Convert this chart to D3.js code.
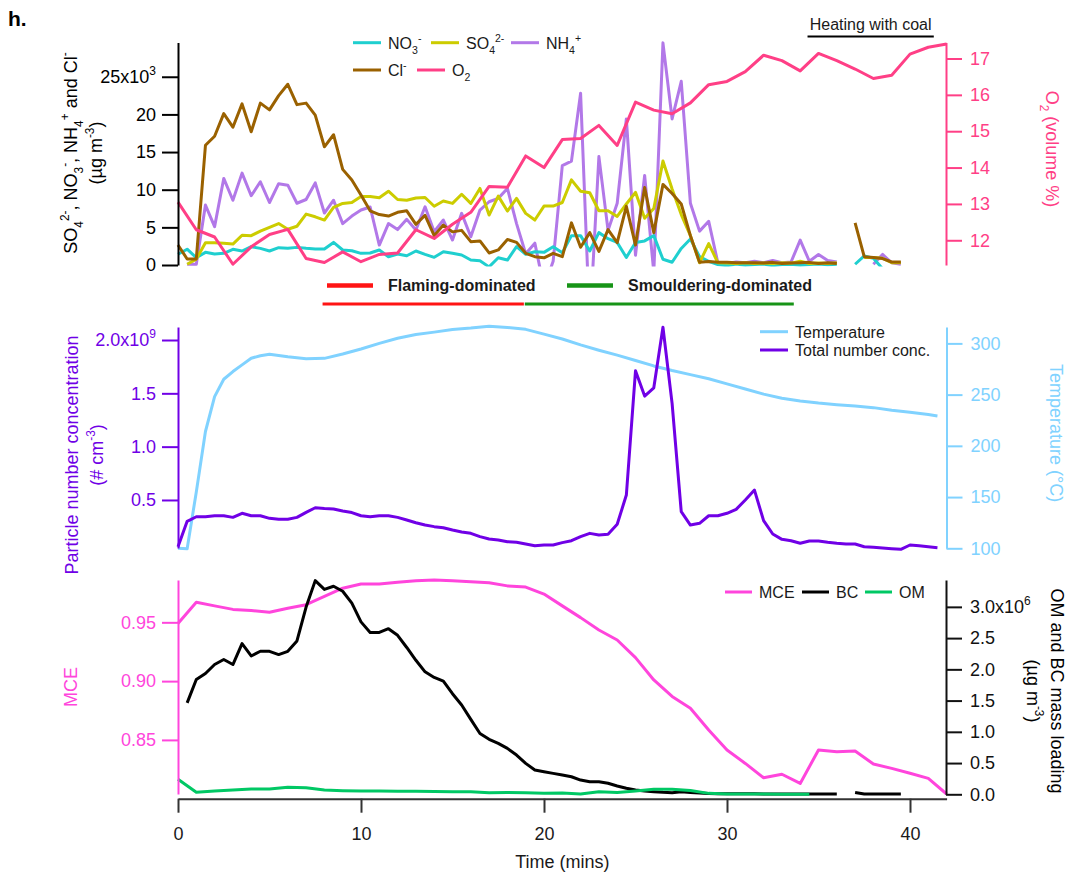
<!DOCTYPE html>
<html>
<head>
<meta charset="utf-8">
<script src="https://cdn.jsdelivr.net/npm/d3@7"></script>
<style>
  body { margin: 0; background: #fff; }
  svg { display: block; }
  text { font-family: Arial, "Liberation Sans", Helvetica, sans-serif; }
</style>
</head>
<body>
<svg id="chart" width="1074" height="875"></svg>
<script>
// ---------- time bases (minutes) ----------
const timeHalfMin = d3.range(84).map(i => i * 0.5);
const timeMin = d3.range(43);
const timeTemp = [0, 0.5, 1, 1.5, 2, 2.5, 3, 3.5, 4, 4.5, 5, 6, 7, 8, 9, 10, 11, 12, 13, 14, 15,
  16, 17, 18, 19, 20, 21, 22, 23, 24, 25, 26, 27, 28, 29, 30, 31, 32, 33, 34, 35, 36, 37, 38, 39, 40, 41, 41.5];
const timeOM = [0, 1, 2, 3, 4, 5, 6, 7, 8, 9, 10, 11, 12, 13, 14, 15, 16, 17, 18, 19, 20, 21, 22,
  23, 24, 25, 26, 27, 28, 29, 30, 31, 32, 33, 34, 34.5];

// ---------- panel 1: inorganic ions (x10^3 ug m-3), O2 (volume %) ----------
const nitrate = [1.42, 2.1, 0.97, 1.68, 1.46, 1.55, 2.08, 1.86, 2.43, 2.21,
  1.86, 2.3, 2.21, 2.34, 2.21, 2.12, 2.12, 3.0, 1.99, 1.9,
  1.55, 1.6, 1.99, 1.1, 1.46, 1.23, 1.86, 1.42, 1.02, 1.76,
  1.55, 1.33, 0.66, 0.57, -0.25, 0.97, 0.66, 2.43, 1.42, 1.76,
  1.68, 2.43, 1.63, 3.9, 3.9, 1.86, 4.3, 3.5, 3.0, 1.0,
  3.0, 3.2, 3.9, 0.76, 0.36, 2.2, 3.45, 1.1, 0.5, 0.05,
  -0.1, 0.12, -0.05, 0.06, 0.12, -0.1, 0.05, 0.1, -0.05, 0.06,
  0.12, 0.02, 0.1, null, 0.1, 1.2, 0.9, -0.5];
const sulfate = [null, 0.1, 0.78, 2.96, 2.96, 2.88, 2.78, 3.95, 3.9, 4.5,
  5.0, 5.5, 4.75, 5.15, 6.76, 6.4, 5.97, 7.65, 8.18, 8.3,
  9.1, 9.1, 8.93, 9.8, 8.7, 8.6, 8.9, 8.96, 7.8, 8.5,
  8.18, 9.4, 8.18, 10.17, 6.63, 9.15, 7.16, 8.85, 6.86, 5.97,
  7.82, 7.82, 8.3, 11.3, 9.8, 9.6, 7.2, 7.2, 6.45, 8.1,
  9.65, 6.2, 7.5, 13.8, 10.1, 6.7, 3.9, 0.3, 2.85, 0.3,
  0.25, 0.2, 0.3, 0.2, 0.25, 0.2, 0.3, 0.25, 0.5, 0.2,
  0.25, 0.2, 0.3, null, null, 1.0, 1.0, 0.9, 0.3, 0.3];
const ammonium = [null, 0.1, 0.1, 7.96, 5.1, 11.5, 8.6, 12.2, 9.2, 11.05,
  8.3, 10.8, 10.6, 8.2, 8.7, 10.9, 6.9, 8.6, 5.5, 6.5,
  7.3, 7.7, 2.65, 5.5, 4.7, 6.06, 4.64, 7.73, 4.42, 5.97,
  3.32, 6.86, 3.75, 7.3, 8.4, 8.85, 10.17, 5.5, 1.5, 2.9,
  -3, 0.5, 13.2, 13.8, 22.8, -8, 14.4, 4.6, 8.2, 19.4,
  1.3, 11.9, -1, 29.5, 19.4, 24.4, 8.2, 4.5, 5.8, 0.3,
  0.2, 0.4, 0.3, 0.5, 0.3, 0.6, 0.3, 0.4, 3.3, 0.5,
  1.4, 0.6, 0.4, null, null, null, 0.1, 1.4, 0.3, 0.1];
const chloride = [2.65, 0.8, 0.8, 15.9, 17.1, 20.1, 18.3, 21.4, 17.7, 21.5,
  20.6, 22.5, 24.0, 21.3, 21.5, 19.9, 15.7, 17.3, 12.7, 11.3,
  9.3, 7.2, 6.7, 6.5, 7.0, 7.2, 5.4, 6.6, 3.9, 5.3,
  4.4, 4.6, 3.1, 3.2, 1.6, 2.0, 3.4, 3.0, 1.55, 1.1,
  0.95, 1.55, 1.1, 5.6, 2.35, 4.3, 1.8, 4.7, 2.96, 7.8,
  2.65, 10.3, 4.3, 10.7, 9.5, 8.1, 3.9, 0.35, 0.45, 0.35,
  0.35, 0.3, 0.3, 0.3, 0.25, 0.35, 0.2, 0.25, 0.3, 0.35,
  0.2, 0.3, 0.2, null, 5.6, 1.1, 1.0, 0.85, 0.4, 0.4];
const oxygen = [13.05, 12.29, 12.09, 11.34, 11.82, 12.16, 12.30, 11.50, 11.39, 11.68,
  11.41, 11.61, 11.65, 12.29, 12.05, 12.44, 12.77, 13.48, 13.46, 14.32,
  14.00, 14.77, 14.80, 15.16, 14.61, 15.80, 15.58, 15.48, 15.78, 16.28,
  16.37, 16.64, 17.09, 16.94, 16.66, 17.14, 16.94, 16.71, 16.45, 16.54,
  17.12, 17.31, 17.40];

// ---------- panel 2: particle number (x10^9 # cm-3), temperature (degC) ----------
const numberConc = [0.062, 0.30, 0.343, 0.343, 0.352, 0.352, 0.337, 0.375, 0.352, 0.352,
  0.328, 0.319, 0.319, 0.337, 0.384, 0.427, 0.42, 0.415, 0.396, 0.382,
  0.352, 0.343, 0.352, 0.352, 0.337, 0.312, 0.287, 0.265, 0.25, 0.24,
  0.218, 0.2, 0.187, 0.156, 0.134, 0.125, 0.109, 0.103, 0.087, 0.071,
  0.078, 0.078, 0.1, 0.118, 0.156, 0.187, 0.172, 0.178, 0.272, 0.546,
  1.711, 1.474, 1.552, 2.12, 1.406, 0.39, 0.265, 0.281, 0.352, 0.352,
  0.375, 0.412, 0.5, 0.593, 0.306, 0.181, 0.131, 0.118, 0.094, 0.115,
  0.115, 0.103, 0.094, 0.087, 0.087, 0.062, 0.056, 0.05, 0.043, 0.037,
  0.078, 0.071, 0.062, 0.053];
const temperature = [100, 99.5, 155, 214, 248, 265, 272.5, 279, 285.5, 288, 289.5,
  287, 285, 285.4, 289.6, 294.5, 300, 305, 308.7, 311, 313.6,
  315, 316.8, 315.6, 313.7, 309, 304.3, 298.5, 293.3, 288.5, 283.3,
  278, 273.5, 269.5, 265.5, 260.5, 255.5, 250.5, 246.5, 243.8, 241.8,
  240.2, 238.8, 237.3, 234.8, 232.8, 230.5, 229.1];

// ---------- panel 3: MCE, BC and OM (x10^6 ug m-3) ----------
const mce = [0.949, 0.967, 0.964, 0.961, 0.960, 0.9585, 0.962, 0.965, 0.972, 0.979,
  0.9826, 0.9826, 0.984, 0.9854, 0.986, 0.9854, 0.9845, 0.9837, 0.981, 0.980,
  0.974, 0.964, 0.954, 0.9435, 0.935, 0.920, 0.901, 0.887, 0.877, 0.8584,
  0.8414, 0.830, 0.8178, 0.8208, 0.813, 0.8414, 0.840, 0.8406, 0.8295, 0.8258,
  0.8216, 0.8173, 0.804];
const blackCarbon = [null, 1.463, 1.837, 1.933, 2.077, 2.157, 2.077, 2.412, 2.214, 2.289,
  2.289, 2.236, 2.289, 2.454, 2.997, 3.42, 3.28, 3.33, 3.25, 3.06,
  2.76, 2.59, 2.59, 2.65, 2.545, 2.35, 2.145, 1.96, 1.87, 1.81,
  1.61, 1.43, 1.2, 0.974, 0.88, 0.815, 0.735, 0.628, 0.495, 0.388,
  0.361, 0.335, 0.308, 0.281, 0.228, 0.201, 0.201, 0.176, 0.133, 0.096,
  0.069, 0.053, 0.042, 0.032, 0.026, 0.042, 0.03, 0.02, 0.012, 0.01,
  0.01, 0.008, 0.008, 0.008, 0.006, 0.006, 0.006, 0.005, 0.005, 0.005,
  0.005, 0.005, 0.005, null, 0.03, 0.004, 0.004, 0.004, 0.004, 0.004];
const organicMatter = [0.24, 0.032, 0.053, 0.069, 0.085, 0.085, 0.112, 0.105, 0.069, 0.058,
  0.053, 0.053, 0.05, 0.048, 0.045, 0.042, 0.04, 0.026, 0.03, 0.026,
  0.016, 0.02, 0.005, 0.042, 0.03, 0.053, 0.08, 0.08, 0.06, 0.015,
  0.005, 0.003, 0.003, 0.002, 0.002, 0.002];

// ---------- phase annotations (minutes) ----------
const phases = [
  { label: "Flaming-dominated", color: "#ff1414", start: 7.9, end: 18.9 },
  { label: "Smouldering-dominated", color: "#179417", start: 18.95, end: 33.65 }
];
const coalHeating = { label: "Heating with coal", start: 34.4, end: 41.3 };

// ---------- tick values and labels ----------
const timeTicks = [0, 10, 20, 30, 40];
const ionTicks = [0, 5, 10, 15, 20, 25];
const ionTickLabels = ["0", "5", "10", "15", "20", "25x10"];
const o2Ticks = [12, 13, 14, 15, 16, 17];
const numTicks = [0.5, 1.0, 1.5, 2.0];
const numTickLabels = ["0.5", "1.0", "1.5", "2.0x10"];
const tempTicks = [100, 150, 200, 250, 300];
const mceTicks = [0.85, 0.90, 0.95];
const mceTickLabels = ["0.85", "0.90", "0.95"];
const massTicks = [0, 0.5, 1.0, 1.5, 2.0, 2.5, 3.0];
const massTickLabels = ["0.0", "0.5", "1.0", "1.5", "2.0", "2.5", "3.0x10"];

// ---------- colours ----------
const C = {
  no3: "#1fcfcf", so4: "#cccc00", nh4: "#b278e8", cl: "#9a6100", o2: "#ff3f86",
  num: "#7000e6", temp: "#80d2ff", mce: "#ff45dc", bc: "#000000", om: "#00c864",
  text: "#1a1a1a", axis: "#333333"
};

const svg = d3.select("#chart");
const defs = svg.append("defs");

const x = d3.scaleLinear().domain([0, 42]).range([178, 946.6]);

const yIon = d3.scaleLinear().domain([0, 29.55]).range([265, 42.5]);
const yO2 = d3.scaleLinear().domain([11.32, 17.44]).range([265, 42.5]);
const yNum = d3.scaleLinear().domain([0.0497, 2.122]).range([548, 327]);
const yTemp = d3.scaleLinear().domain([100, 316]).range([548.3, 327]);
const yMCE = d3.scaleLinear().domain([0.804, 0.986]).range([794, 580]);
const yMass = d3.scaleLinear().domain([0, 3.43]).range([794.3, 580]);

function clip(id, y0, y1) {
  defs.append("clipPath").attr("id", id).append("rect")
    .attr("x", 176).attr("y", y0).attr("width", 775).attr("height", y1 - y0);
  return svg.append("g").attr("clip-path", `url(#${id})`);
}

function series(g, times, values, yScale, color, width = 3) {
  const pts = values.map((v, i) => [times[i], v]);
  g.append("path").datum(pts)
    .attr("fill", "none").attr("stroke", color).attr("stroke-width", width)
    .attr("stroke-linejoin", "round").attr("stroke-linecap", "butt")
    .attr("d", d3.line().defined(d => d[1] != null).x(d => x(d[0])).y(d => yScale(d[1])));
}

// text with sub/superscript parts: [[text, "sub"|"sup"|undefined], ...]
function rich(sel, parts, size) {
  let cur = 0;
  parts.forEach(([s, m]) => {
    const target = m === "sub" ? size * 0.32 : m === "sup" ? -size * 0.42 : 0;
    sel.append("tspan").attr("dy", target - cur)
      .attr("font-size", m ? size * 0.66 : size).text(s);
    cur = target;
  });
  return sel;
}

function drawAxis(gen, xPos, ticks, labels, sups, color) {
  const g = svg.append("g").attr("transform", `translate(${xPos},0)`)
    .call(gen.tickValues(ticks).tickSizeOuter(0)
      .tickFormat((d, i) => labels ? labels[i] : d));
  g.select(".domain").attr("stroke", color).attr("stroke-width", 2);
  g.selectAll(".tick line").attr("stroke", color).attr("stroke-width", 2);
  g.selectAll(".tick text").attr("fill", color).attr("font-size", 18)
    .attr("font-family", 'Arial, "Liberation Sans", sans-serif')
    .each(function (d, i) {
      if (sups && sups[i]) {
        d3.select(this).append("tspan").attr("dy", -8).attr("font-size", 12).text(sups[i]);
      }
    });
  return g;
}

// ================= panel 1 =================
const g1 = clip("clipIons", 39, 266.5);
series(g1, timeHalfMin, ammonium, yIon, C.nh4);
series(g1, timeHalfMin, nitrate, yIon, C.no3);
series(g1, timeHalfMin, sulfate, yIon, C.so4);
series(g1, timeHalfMin, chloride, yIon, C.cl);
series(g1, timeMin, oxygen, yO2, C.o2);

drawAxis(d3.axisLeft(yIon).tickSize(16).tickPadding(6), 178, ionTicks, ionTickLabels,
  [null, null, null, null, null, "3"], "#000");
drawAxis(d3.axisRight(yO2).tickSize(16).tickPadding(8), 946, o2Ticks, null, null, C.o2);

// legend
const leg1 = [
  { parts: [["NO"], ["3", "sub"], ["-", "sup"]], color: C.no3, x0: 353, y: 42.7 },
  { parts: [["SO"], ["4", "sub"], ["2-", "sup"]], color: C.so4, x0: 431, y: 42.7 },
  { parts: [["NH"], ["4", "sub"], ["+", "sup"]], color: C.nh4, x0: 511, y: 42.7 },
  { parts: [["Cl"], ["-", "sup"]], color: C.cl, x0: 353, y: 70 },
  { parts: [["O"], ["2", "sub"]], color: C.o2, x0: 417, y: 70 }
];
leg1.forEach(l => {
  svg.append("line").attr("x1", l.x0).attr("x2", l.x0 + 28).attr("y1", l.y).attr("y2", l.y)
    .attr("stroke", l.color).attr("stroke-width", 3);
  rich(svg.append("text").attr("x", l.x0 + 35).attr("y", l.y + 6).attr("fill", C.text), l.parts, 16);
});

// axis titles
const t1 = svg.append("g").attr("transform", "translate(77,153) rotate(-90)");
rich(t1.append("text").attr("text-anchor", "middle").attr("fill", "#000"),
  [["SO"], ["4", "sub"], ["2-", "sup"], [", NO"], ["3", "sub"], ["-", "sup"], [", NH"], ["4", "sub"], ["+", "sup"], [" and Cl"], ["-", "sup"]], 18);
rich(t1.append("text").attr("text-anchor", "middle").attr("y", 25).attr("fill", "#000"),
  [["(µg m"], ["-3", "sup"], [")"]], 18);

rich(svg.append("text").attr("transform", "translate(1046,149) rotate(90)")
  .attr("text-anchor", "middle").attr("fill", C.o2),
  [["O"], ["2", "sub"], [" (volume %)"]], 18);

// heating annotation
svg.append("text").attr("x", (x(coalHeating.start) + x(coalHeating.end)) / 2).attr("y", 30)
  .attr("text-anchor", "middle").attr("font-size", 16).attr("fill", C.text).text(coalHeating.label);
svg.append("line").attr("x1", x(coalHeating.start)).attr("x2", x(coalHeating.end))
  .attr("y1", 36.5).attr("y2", 36.5).attr("stroke", "#000").attr("stroke-width", 2);

// phase key and bars
const phaseKeyX = [327, 567];
phases.forEach((p, i) => {
  svg.append("line").attr("x1", phaseKeyX[i]).attr("x2", phaseKeyX[i] + 46)
    .attr("y1", 285.5).attr("y2", 285.5).attr("stroke", p.color).attr("stroke-width", 4.5);
  svg.append("text").attr("x", phaseKeyX[i] + 61).attr("y", 290.5)
    .attr("font-size", 16).attr("font-weight", "bold").attr("fill", C.text).text(p.label);
  svg.append("line").attr("x1", x(p.start)).attr("x2", x(p.end))
    .attr("y1", 304).attr("y2", 304).attr("stroke", p.color).attr("stroke-width", 3);
});

// ================= panel 2 =================
const g2 = clip("clipNum", 324, 551);
series(g2, timeTemp, temperature, yTemp, C.temp);
series(g2, timeHalfMin, numberConc, yNum, C.num);

drawAxis(d3.axisLeft(yNum).tickSize(16).tickPadding(6), 178, numTicks, numTickLabels,
  [null, null, null, "9"], C.num);
drawAxis(d3.axisRight(yTemp).tickSize(16).tickPadding(8), 946.5, tempTicks, null, null, C.temp);

const leg2 = [
  { label: "Temperature", color: C.temp, y: 331.7 },
  { label: "Total number conc.", color: C.num, y: 350 }
];
leg2.forEach(l => {
  svg.append("line").attr("x1", 760).attr("x2", 788).attr("y1", l.y).attr("y2", l.y)
    .attr("stroke", l.color).attr("stroke-width", 3);
  svg.append("text").attr("x", 795).attr("y", l.y + 6).attr("font-size", 16)
    .attr("fill", C.text).text(l.label);
});

const t2 = svg.append("g").attr("transform", "translate(77.5,455) rotate(-90)");
t2.append("text").attr("text-anchor", "middle").attr("font-size", 18).attr("fill", C.num)
  .text("Particle number concentration");
rich(t2.append("text").attr("text-anchor", "middle").attr("y", 25).attr("fill", C.num),
  [["(# cm"], ["-3", "sup"], [")"]], 18);

svg.append("text").attr("transform", "translate(1050,433) rotate(90)")
  .attr("text-anchor", "middle").attr("font-size", 18).attr("fill", C.temp)
  .text("Temperature (°C)");

// ================= panel 3 =================
const g3 = clip("clipMass", 577, 797);
series(g3, timeMin, mce, yMCE, C.mce);
series(g3, timeHalfMin, blackCarbon, yMass, C.bc);
series(g3, timeOM, organicMatter, yMass, C.om);

drawAxis(d3.axisLeft(yMCE).tickSize(16).tickPadding(6), 178, mceTicks, mceTickLabels, null, C.mce);
drawAxis(d3.axisRight(yMass).tickSize(16).tickPadding(8), 946, massTicks, massTickLabels,
  [null, null, null, null, null, null, "6"], "#111");

const leg3 = [
  { label: "MCE", color: C.mce, x0: 725 },
  { label: "BC", color: C.bc, x0: 802 },
  { label: "OM", color: C.om, x0: 865 }
];
leg3.forEach(l => {
  svg.append("line").attr("x1", l.x0).attr("x2", l.x0 + 27).attr("y1", 592).attr("y2", 592)
    .attr("stroke", l.color).attr("stroke-width", 3);
  svg.append("text").attr("x", l.x0 + 34).attr("y", 598).attr("font-size", 16)
    .attr("fill", C.text).text(l.label);
});

svg.append("text").attr("transform", "translate(77,687) rotate(-90)")
  .attr("text-anchor", "middle").attr("font-size", 18).attr("fill", C.mce).text("MCE");

const t3 = svg.append("g").attr("transform", "translate(1051,691) rotate(90)");
t3.append("text").attr("text-anchor", "middle").attr("font-size", 18).attr("fill", "#000")
  .text("OM and BC mass loading");
rich(t3.append("text").attr("text-anchor", "middle").attr("y", 24).attr("fill", "#000"),
  [["(µg m"], ["-3", "sup"], [")"]], 18);

// time axis
const xa = svg.append("g").attr("transform", "translate(0,798.7)")
  .call(d3.axisBottom(x).tickValues(timeTicks).tickSize(14).tickPadding(15).tickSizeOuter(0));
xa.select(".domain").attr("stroke", C.axis).attr("stroke-width", 2);
xa.selectAll(".tick line").attr("stroke", C.axis).attr("stroke-width", 2);
xa.selectAll(".tick text").attr("fill", C.text).attr("font-size", 18)
  .attr("font-family", 'Arial, "Liberation Sans", sans-serif');
svg.append("text").attr("x", x(21)).attr("y", 868).attr("text-anchor", "middle")
  .attr("font-size", 18).attr("fill", C.text).text("Time (mins)");

// panel tag
svg.append("text").attr("x", 8).attr("y", 26).attr("font-size", 21)
  .attr("font-weight", "bold").attr("fill", "#000").text("h.");
</script>
</body>
</html>
